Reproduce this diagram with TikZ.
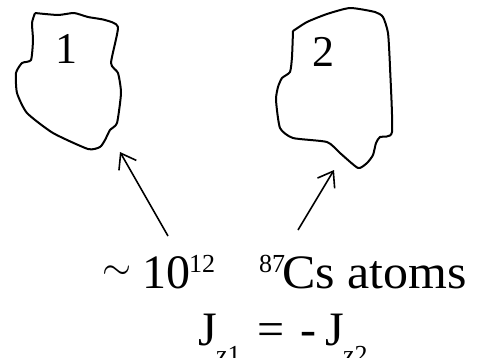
\documentclass[tikz,border=0pt]{standalone}
\usepackage{fontspec}
\setmainfont{Liberation Serif}
\usetikzlibrary{arrows.meta,positioning,calc}

\begin{document}
\begin{tikzpicture}[
  x=1pt, y=-1pt,
  blob/.style={draw, line width=2pt, line join=round},
  lbl/.style={font=\fontsize{44}{50}\selectfont, inner sep=0pt},
  big/.style={font=\fontsize{48}{54}\selectfont, inner sep=0pt, anchor=base west},
  small/.style={font=\fontsize{26}{30}\selectfont, inner sep=0pt, anchor=base west},
  arr/.style={-{Straight Barb[length=14pt, width=20pt]}, line width=1.6pt}
]
\useasboundingbox (0,0) rectangle (480,357);

% cloud 1
\draw[blob] plot[smooth, tension=0.35] coordinates {
  (35,13) (58,15) (74,13) (88,17) (105,20) (118,27) (111,63) (118,73)
  (121,93) (117,123) (110,130) (105,140) (100,147) (88,149) (53,133)
  (27,113) (17,93) (16,73) (22,63) (31,60) (33,40) (32,23) (35,13)};
\node[lbl] (one) at (67,49) {1};

% cloud 2
\draw[blob] plot[smooth, tension=0.35] coordinates {
  (293,31) (307,22) (327,14) (350,8) (375,12) (383,17) (388,33) (390,67)
  (392,132) (380,137) (376,143) (373,155) (367,163) (358,168) (340,153)
  (327,142) (293,138) (280,128) (276,100) (278,87) (282,78) (290,72)
  (292,57) (293,31)};
\node[lbl] (two) at (323,52) {2};

% number of atoms
\node[inner sep=0pt] (tilde) at (117,273) {\resizebox{29pt}{!}{$\sim$}};
\node[big] (ten) at (142,288) {10};
\node[small] (exp) at (189,272) {12};
\node[small] (mass) at (259,272) {87};
\node[big] (atoms) at (282,288) {\scalebox{1.04}[1]{Cs atoms}};

% angular momenta
\node[big] (ja) at (198,345) {J};
\node[small] (za) at (216,363) {z1};
\node[big] (eq) at (257,345) {=};
\node[big] (minus) at (300,345) {-};
\node[big] (jb) at (325,345) {J};
\node[small] (zb) at (343,363) {z2};

\coordinate (t1) at (168,236);
\coordinate (h1) at (120,152);
\coordinate (t2) at (298,230);
\coordinate (h2) at (334,170);
\draw[arr] (t1) -- (h1);
\draw[arr] (t2) -- (h2);

\end{tikzpicture}
\end{document}
